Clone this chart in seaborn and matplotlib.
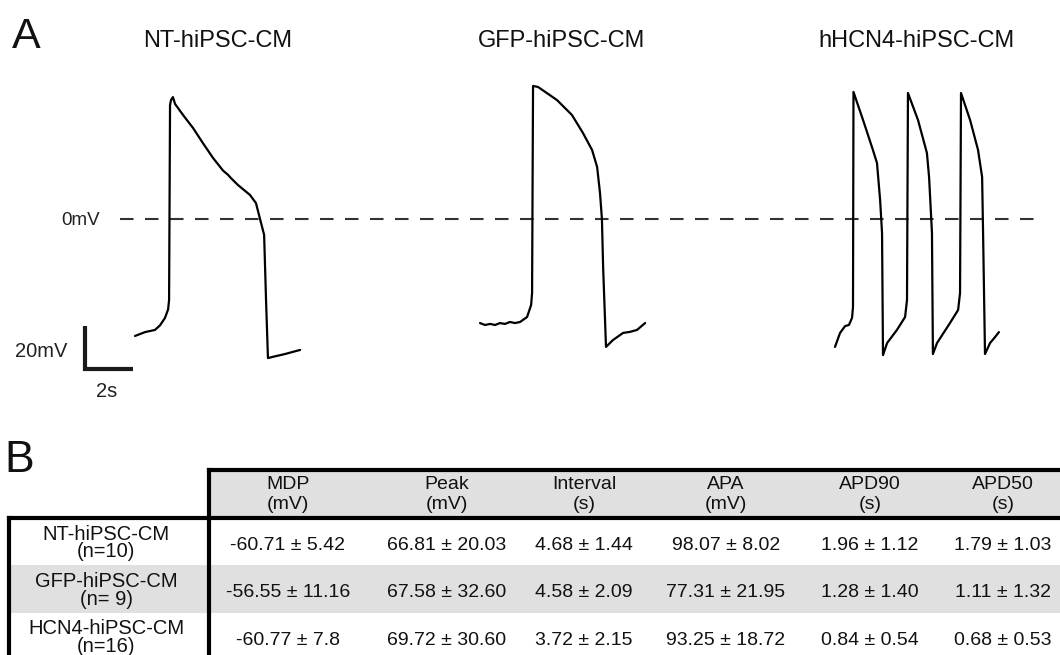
import numpy as np
import pandas as pd
import matplotlib
matplotlib.use("Agg")
import matplotlib.pyplot as plt
import seaborn as sns
from matplotlib.patches import Rectangle

# ---------------- data ----------------
trace_names = ["NT-hiPSC-CM", "GFP-hiPSC-CM", "hHCN4-hiPSC-CM"]

nt_t = [0.00, 0.42, 0.83, 1.04, 1.25, 1.38, 1.42, 1.46, 1.50, 1.58, 1.67, 2.00, 2.42, 2.83,
        3.25, 3.67, 3.88, 4.00, 4.29, 4.79, 5.04, 5.21, 5.38, 5.46, 5.54, 5.71, 6.25, 6.88]
nt_v = [-54.4, -52.6, -51.6, -49.5, -46.0, -42.0, -37.7, 53.0, 55.3, 56.7, 53.5, 48.4, 42.3,
        35.3, 28.4, 22.5, 20.5, 19.0, 15.8, 11.2, 7.4, 0.0, -7.4, -37.7, -64.7, -64.2, -62.8, -60.9]

gfp_t = [0.00, 0.21, 0.42, 0.63, 0.83, 1.04, 1.25, 1.46, 1.67, 1.96, 2.13, 2.17, 2.21, 2.42,
         3.21, 3.83, 4.29, 4.67, 4.88, 5.00, 5.08, 5.13, 5.25, 5.54, 5.96, 6.25, 6.54, 6.88]
gfp_v = [-48.4, -49.3, -48.8, -49.3, -48.4, -48.8, -47.9, -48.4, -47.9, -45.6, -40.0, -34.4,
         61.9, 61.4, 55.3, 48.4, 40.0, 32.1, 24.2, 12.1, 0.0, -22.3, -59.5, -56.3, -53.0,
         -52.5, -51.6, -48.4]

hcn4_t = [0.00, 0.21, 0.42, 0.58, 0.71, 0.75, 0.77, 1.17, 1.58, 1.75, 1.88, 1.96, 2.00,
          2.17, 2.58, 2.92, 3.00, 3.04, 3.46, 3.83, 3.92, 4.04, 4.08, 4.25, 4.79, 5.13,
          5.21, 5.25, 5.63, 5.96, 6.13, 6.17, 6.25, 6.46, 6.67, 6.83]
hcn4_v = [-59.5, -53.0, -49.8, -49.3, -46.0, -40.9, 59.1, 46.0, 32.1, 26.0, 8.8, -6.5,
          -63.3, -57.7, -51.6, -45.6, -37.7, 58.6, 46.0, 30.7, 19.5, -6.5, -62.8, -57.7,
          -48.4, -42.3, -34.4, 58.6, 46.0, 32.1, 19.5, -6.5, -62.8, -57.7, -54.9, -52.6]

zero_mv = 0
scale_mv = 20
scale_s = 2

col_names = ["MDP", "Peak", "Interval", "APA", "APD90", "APD50"]
col_units = ["(mV)", "(mV)", "(s)", "(mV)", "(s)", "(s)"]
row_names = ["NT-hiPSC-CM", "GFP-hiPSC-CM", "HCN4-hiPSC-CM"]
row_counts = ["(n=10)", "(n= 9)", "(n=16)"]
mdp = ["-60.71 ± 5.42", "-56.55 ± 11.16", "-60.77 ± 7.8"]
peak = ["66.81 ± 20.03", "67.58 ± 32.60", "69.72 ± 30.60"]
interval = ["4.68 ± 1.44", "4.58 ± 2.09", "3.72 ± 2.15"]
apa = ["98.07 ± 8.02", "77.31 ± 21.95", "93.25 ± 18.72"]
apd90 = ["1.96 ± 1.12", "1.28 ± 1.40", "0.84 ± 0.54"]
apd50 = ["1.79 ± 1.03", "1.11 ± 1.32", "0.68 ± 0.53"]

# ---------------- layout ----------------
W, H = 1060, 655
PX_PER_S = 24.0
PX_PER_MV = 2.15
ZERO_Y = 219.0

sns.set_style("white")
plt.rcParams["font.family"] = ["Liberation Sans", "DejaVu Sans"]

fig = plt.figure(figsize=(W / 100, H / 100), dpi=100)

# axes for traces: x in seconds, y in mV
ax = fig.add_axes([0, 0, 1, 1])

# overlay axes in pixel coordinates for text and table
tx = fig.add_axes([0, 0, 1, 1])
tx.set_xlim(0, W)
tx.set_ylim(H, 0)
tx.axis("off")
tx.patch.set_alpha(0)

def px_to_s(x):
    return x / PX_PER_S

def py_to_mv(y):
    return (ZERO_Y - y) / PX_PER_MV

# zero-mV dashed reference
ax.hlines(zero_mv, px_to_s(120), px_to_s(1036), colors="#333333", lw=1.5,
          linestyles=(0, (6.5, 5.5)), zorder=1)

trace_starts_px = [135, 480, 835]
traces = [(nt_t, nt_v), (gfp_t, gfp_v), (hcn4_t, hcn4_v)]
for (t, v), x0 in zip(traces, trace_starts_px):
    df = pd.DataFrame({"t": np.asarray(t) + px_to_s(x0), "v": v})
    sns.lineplot(data=df, x="t", y="v", sort=False, estimator=None, color="black",
                 lw=1.6, ax=ax, zorder=3)

# scale bar
sb_x = px_to_s(85)
sb_y = py_to_mv(369)
ax.plot([sb_x, sb_x, sb_x + scale_s], [sb_y + scale_mv, sb_y, sb_y], color="#1a1a1a",
        lw=3, solid_joinstyle="miter", solid_capstyle="butt")

ax.set_xlim(0, W / PX_PER_S)
ax.set_ylim((ZERO_Y - H) / PX_PER_MV, ZERO_Y / PX_PER_MV)
ax.axis("off")

# titles and labels
title_x = [218, 562, 916]
for name, x in zip(trace_names, title_x):
    tx.text(x, 47, name, ha="center", va="baseline", fontsize=17, color="#111111")
tx.text(12, 48, "A", ha="left", va="baseline", fontsize=31, color="#111111")
tx.text(100, 225, f"{zero_mv}mV", ha="right", va="baseline", fontsize=13.5, color="#222222")
tx.text(67, 357, f"{scale_mv}mV", ha="right", va="baseline", fontsize=14.5, color="#222222")
tx.text(107, 397, f"{scale_s}s", ha="center", va="baseline", fontsize=14.5, color="#222222")
tx.text(4, 472, "B", ha="left", va="baseline", fontsize=32, color="#111111")

# ---------------- table ----------------
grey = "#e0e0e0"
hdr_top, hdr_bot = 470, 518
row_h = 47.3
left_x, div_x = 9, 209
tx.add_patch(Rectangle((div_x, hdr_top), W - div_x, hdr_bot - hdr_top, color=grey, lw=0, zorder=1))
tx.add_patch(Rectangle((left_x, hdr_bot + row_h), W - left_x, row_h, color=grey, lw=0, zorder=1))

lw_tab = 3.0
tx.plot([div_x, W], [hdr_top, hdr_top], color="black", lw=lw_tab, solid_capstyle="projecting", zorder=3)
tx.plot([left_x, W], [hdr_bot, hdr_bot], color="black", lw=lw_tab, solid_capstyle="projecting", zorder=3)
tx.plot([div_x, div_x], [hdr_top, H + 5], color="black", lw=lw_tab, solid_capstyle="projecting", zorder=3)
tx.plot([left_x, left_x], [hdr_bot, H + 5], color="black", lw=lw_tab, solid_capstyle="projecting", zorder=3)

col_x = [288, 447, 584, 726, 870, 1003]
for name, unit, x in zip(col_names, col_units, col_x):
    tx.text(x, (hdr_top + hdr_bot) / 2 + 0.5, f"{name}\n{unit}", ha="center", va="center",
            fontsize=14, linespacing=1.2, color="#111111", zorder=4)

row_label_x = 106
for i, (nm, cnt) in enumerate(zip(row_names, row_counts)):
    cy = hdr_bot + (i + 0.5) * row_h + 1.5
    tx.text(row_label_x, cy, f"{nm}\n{cnt}", ha="center", va="center", fontsize=14.5,
            linespacing=0.9, color="#111111", zorder=4)

columns = [mdp, peak, interval, apa, apd90, apd50]
for col, x in zip(columns, col_x):
    for i, val in enumerate(col):
        tx.text(x, hdr_bot + 32 + i * row_h, val, ha="center", va="baseline", fontsize=14,
                color="#111111", zorder=4)

fig.savefig("out.png", dpi=100)
